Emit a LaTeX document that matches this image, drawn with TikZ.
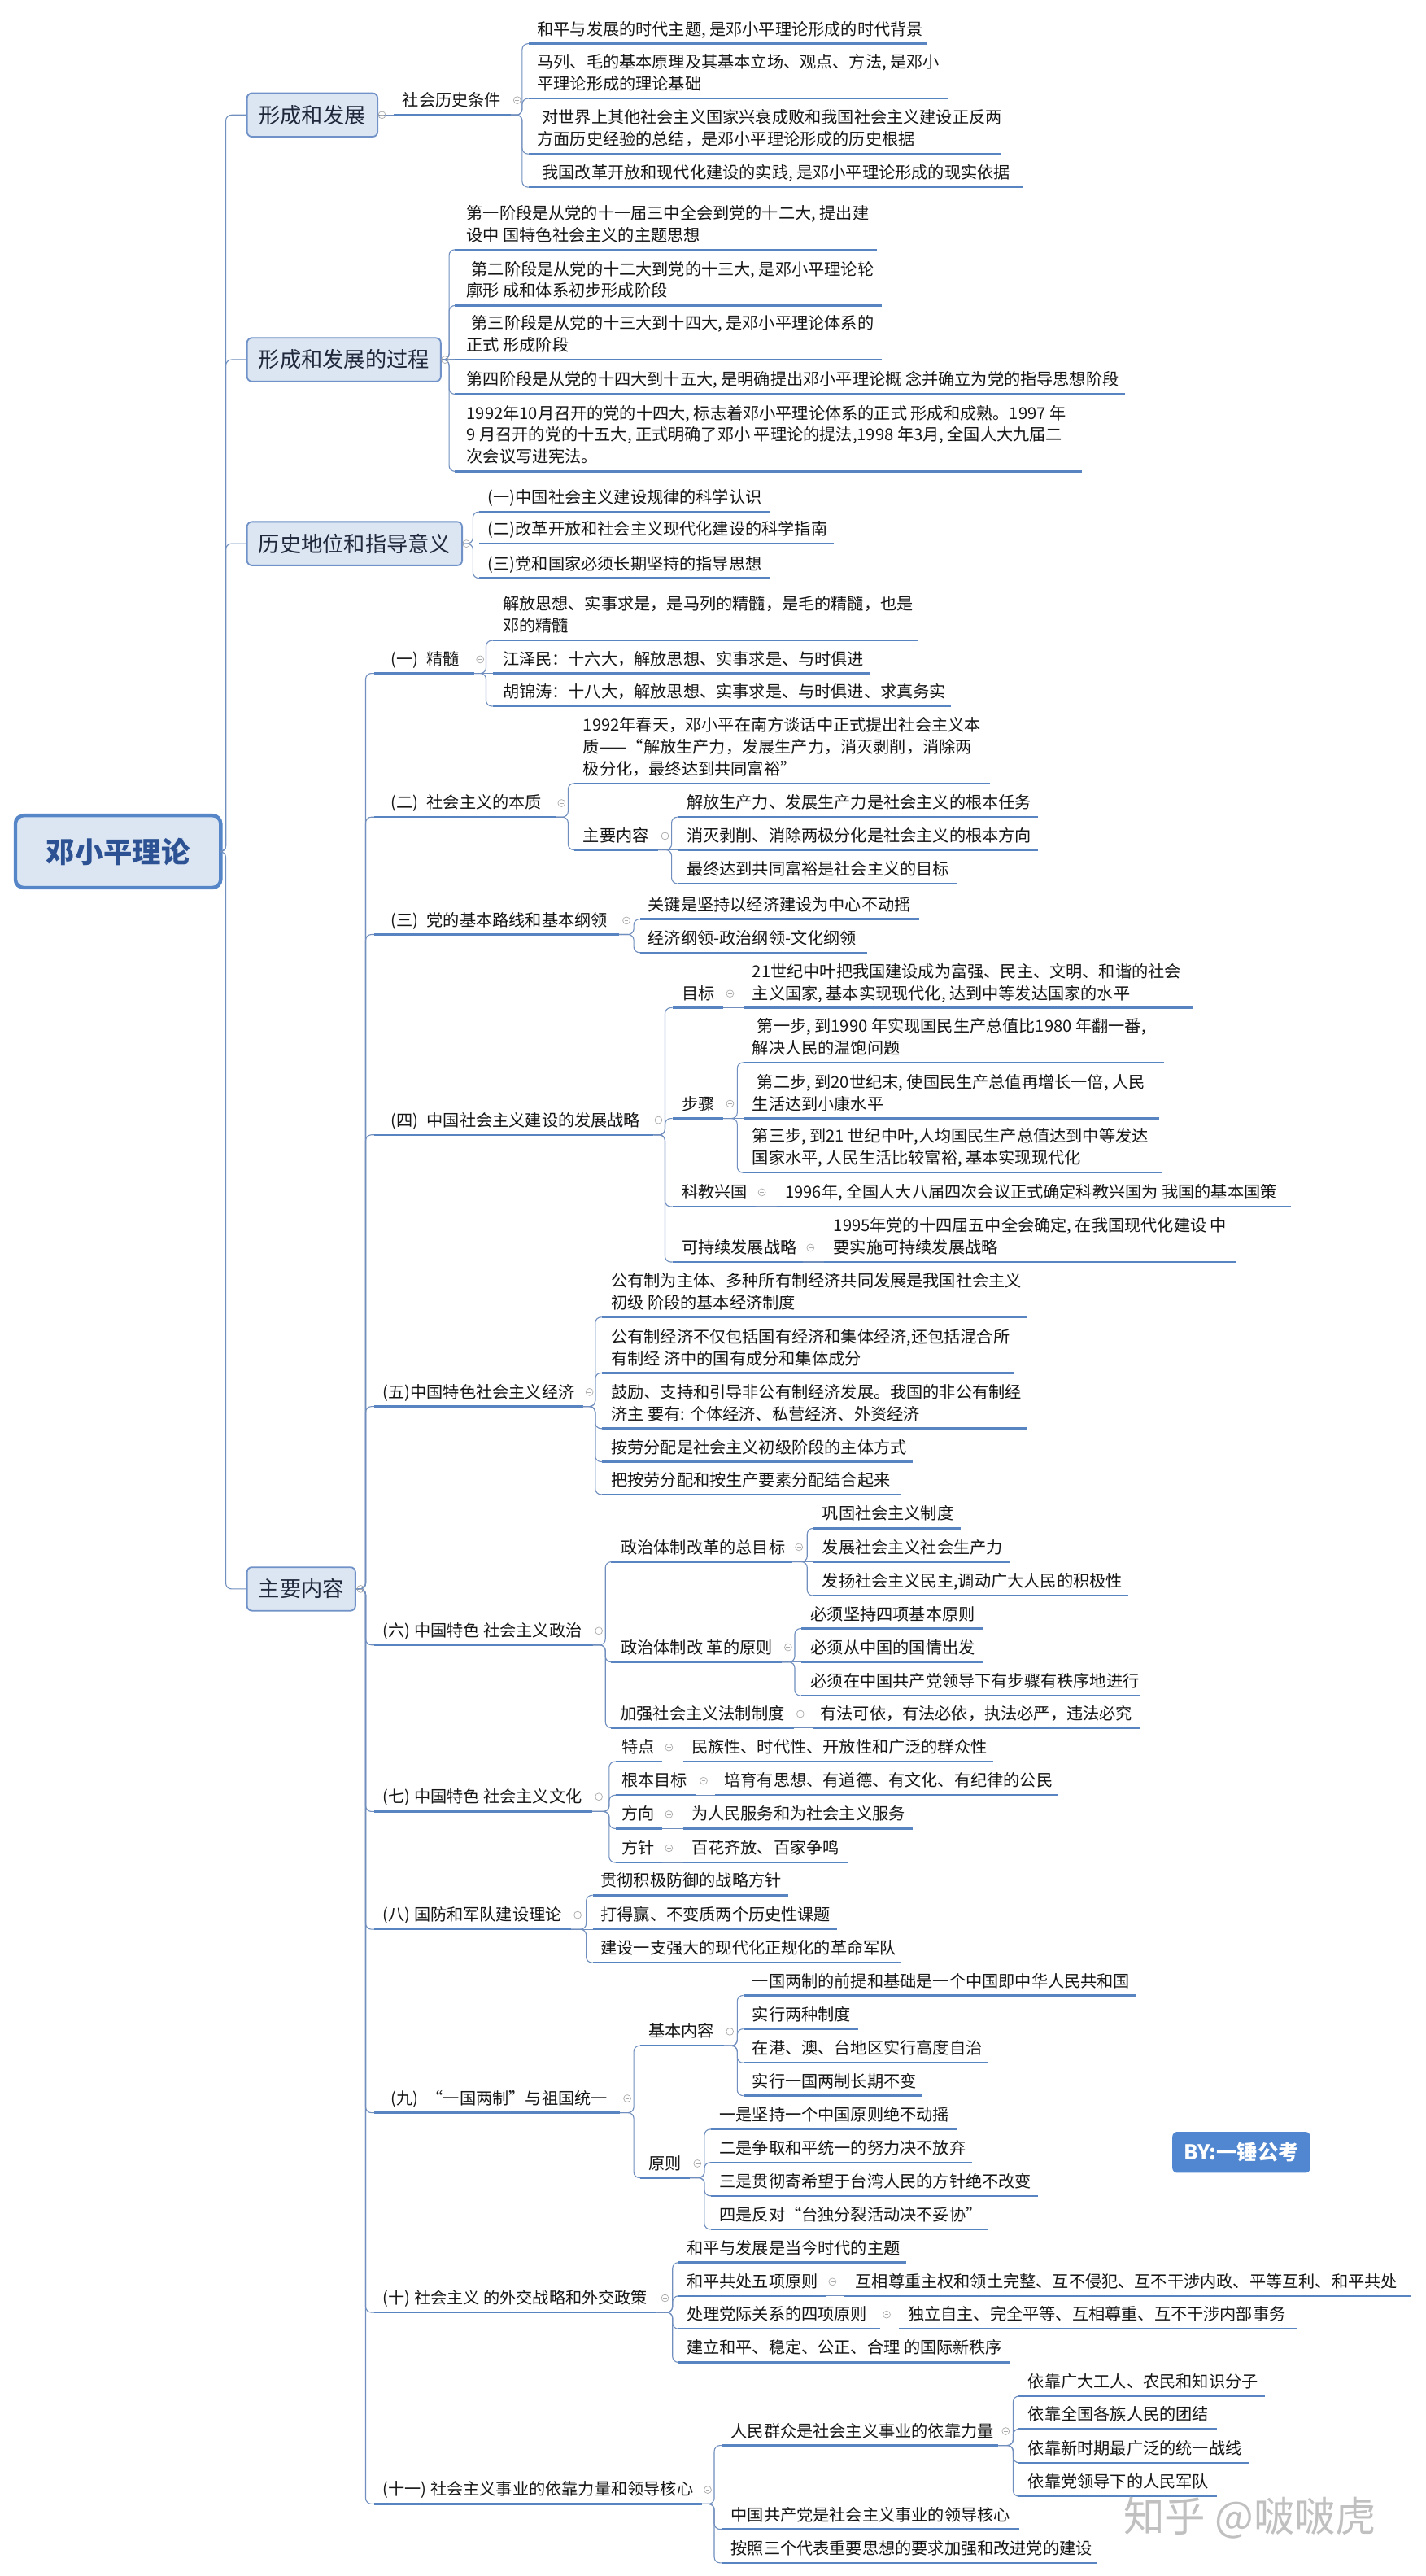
\documentclass[tikz,border=0pt]{standalone}
\usepackage{fontspec}
\setmainfont{Noto Sans CJK SC}
\definecolor{ulc}{RGB}{88,132,194}
\definecolor{cnc}{RGB}{112,142,190}
\definecolor{bxf}{RGB}{220,230,242}
\definecolor{bxb}{RGB}{112,146,200}
\definecolor{bxt}{RGB}{32,40,60}
\definecolor{txc}{RGB}{22,22,22}
\definecolor{rtb}{RGB}{86,134,200}
\definecolor{rtt}{RGB}{44,82,148}
\definecolor{byf}{RGB}{80,135,208}
\definecolor{wmc}{RGB}{192,192,192}
\definecolor{ccc}{RGB}{170,170,170}
\tikzset{
  uline/.style={draw=ulc, line width=1.2pt},
  conn/.style={draw=cnc, line width=0.55pt, rounded corners=3.5pt},
  ccs/.style={draw=ccc, line width=0.35pt},
  tx/.style={anchor=south west, inner sep=0pt, align=left, text=txc,
    font=\fontsize{10}{13.3}\selectfont, execute at end node=\strut},
  lonebox/.style={anchor=west, draw=bxb, fill=bxf, line width=0.9pt, rounded corners=3pt,
    inner sep=0pt, minimum height=26.5pt, text=bxt, font=\fontsize{13}{15}\selectfont},
  rootbox/.style={anchor=west, draw=rtb, fill=bxf, line width=2.2pt, rounded corners=5pt,
    inner sep=0pt, minimum width=125pt, minimum height=44pt, text=rtt,
    font=\fontsize{17.5}{20}\selectfont\bfseries},
  bybox/.style={draw=none, fill=byf, rounded corners=3pt, inner sep=0pt,
    minimum width=84pt, minimum height=25pt, text=white, font=\fontsize{12.5}{14}\selectfont\bfseries},
  wmark/.style={anchor=west, inner sep=0pt, text=wmc, font=\fontsize{25}{28}\selectfont}
}
% topic: name, line x1, line x2, line y, text x, text
\newcommand\tp[6]{%
  \draw[uline] (#2,#4) coordinate (#1-l) -- (#3,#4) coordinate (#1-r);
  \node[tx] (#1) at (#5,#4-1) {#6};}
% collapse mark
\newcommand\cc[2]{\draw[ccs] (#1,#2) circle[radius=2.2]; \draw[ccs] (#1-1.2,#2) -- (#1+1.2,#2);}
% bracket connector and straight connector
\newcommand\cn[3]{\draw[conn] (#1) -- (#2) |- (#3);}
\newcommand\cs[2]{\draw[conn] (#1) -- (#2);}
\begin{document}
\begin{tikzpicture}[x=1pt,y=-1pt]
\fill[white] (0,0) rectangle (868,1568.5);
\useasboundingbox (0,0) rectangle (868,1568.5);

% ---------- root and first level ----------
\node[rootbox] (root) at (8.3,518.5) {邓小平理论};
\node[lonebox, minimum width=79.5pt] (bA) at (150,70) {形成和发展};
\node[lonebox, minimum width=118pt] (bB) at (150,219) {形成和发展的过程};
\node[lonebox, minimum width=131pt] (bC) at (150,331) {历史地位和指导意义};
\node[lonebox, minimum width=66pt] (bD) at (150,967.5) {主要内容};
\coordinate (jR) at (137.5,518.5);
\foreach \b in {bA,bB,bC,bD} {\cn{root.east}{jR}{\b.west}}

% ---------- 形成和发展 ----------
\tp{s1}{240}{311}{70}{245}{社会历史条件}
\cs{bA.east}{s1-l}
\coordinate (jA) at (318,70);
\tp{a1}{322}{565}{26.6}{327}{和平与发展的时代主题, 是邓小平理论形成的时代背景}
\tp{a2}{322}{577}{60}{327}{马列、毛的基本原理及其基本立场、观点、方法, 是邓小\\平理论形成的理论基础}
\tp{a3}{322}{610}{93.7}{327}{\hspace*{3pt}对世界上其他社会主义国家兴衰成败和我国社会主义建设正反两\\方面历史经验的总结，是邓小平理论形成的历史根据}
\tp{a4}{322}{623}{114}{327}{\hspace*{3pt}我国改革开放和现代化建设的实践, 是邓小平理论形成的现实依据}
\foreach \c in {a1,a2,a3,a4} {\cn{s1-r}{jA}{\c-l}}
\cc{232.6}{70} \cc{315}{61}

% ---------- 形成和发展的过程 ----------
\coordinate (jB) at (273.5,219);
\tp{b1}{277}{534}{152}{284}{第一阶段是从党的十一届三中全会到党的十二大, 提出建\\设中 国特色社会主义的主题思想}
\tp{b2}{277}{537}{186}{284}{\hspace*{3pt}第二阶段是从党的十二大到党的十三大, 是邓小平理论轮\\廓形 成和体系初步形成阶段}
\tp{b3}{277}{537}{219}{284}{\hspace*{3pt}第三阶段是从党的十三大到十四大, 是邓小平理论体系的\\正式 形成阶段}
\tp{b4}{277}{685}{240}{284}{第四阶段是从党的十四大到十五大, 是明确提出邓小平理论概 念并确立为党的指导思想阶段}
\tp{b5}{277}{659}{287}{284}{1992年10月召开的党的十四大, 标志着邓小平理论体系的正式 形成和成熟。1997 年\\9 月召开的党的十五大, 正式明确了邓小 平理论的提法,1998 年3月, 全国人大九届二\\次会议写进宪法。}
\foreach \c in {b1,b2,b4,b5} {\cn{bB.east}{jB}{\c-l}}
\cs{bB.east}{b3-l}
\cc{271}{219}

% ---------- 历史地位和指导意义 ----------
\coordinate (jC) at (288,331);
\tp{c1}{292}{469}{311.7}{297}{(一)中国社会主义建设规律的科学认识}
\tp{c2}{292}{508}{331}{297}{(二)改革开放和社会主义现代化建设的科学指南}
\tp{c3}{292}{469}{352}{297}{(三)党和国家必须长期坚持的指导思想}
\cn{bC.east}{jC}{c1-l} \cs{bC.east}{c2-l} \cn{bC.east}{jC}{c3-l}
\cc{284}{331}

% ---------- 主要内容 : second level ----------
\coordinate (jD) at (222.7,967.5);
\tp{D1}{228}{289}{410}{238}{(一)\hspace{5pt}精髓}
\tp{D2}{228}{338.5}{497.5}{238}{(二)\hspace{5pt}社会主义的本质}
\tp{D3}{228}{377}{569}{238}{(三)\hspace{5pt}党的基本路线和基本纲领}
\tp{D4}{228}{398}{691}{238}{(四)\hspace{5pt}中国社会主义建设的发展战略}
\tp{D5}{228}{355}{856.4}{233}{(五)中国特色社会主义经济}
\tp{D6}{228}{361}{1001.6}{233}{(六) 中国特色 社会主义政治}
\tp{D7}{228}{360.6}{1103}{233}{(七) 中国特色 社会主义文化}
\tp{D8}{228}{347.7}{1174.7}{233}{(八) 国防和军队建设理论}
\tp{D9}{228}{377.6}{1286.4}{238}{(九)\hspace{5pt}“一国两制”与祖国统一}
\tp{D10}{228}{400}{1408}{233}{(十) 社会主义 的外交战略和外交政策}
\tp{D11}{228}{427.6}{1524.6}{233}{(十一) 社会主义事业的依靠力量和领导核心}
\foreach \c in {D1,D2,D3,D4,D5,D6,D7,D8,D9,D10,D11} {\cn{bD.east}{jD}{\c-l}}
\cc{219.6}{967.5}

% (一) 精髓
\coordinate (jD1) at (296,410);
\tp{d11}{300}{559.5}{390}{306}{解放思想、实事求是，是马列的精髓，是毛的精髓，也是\\邓的精髓}
\tp{d12}{300}{529.5}{410}{306}{江泽民：十六大，解放思想、实事求是、与时俱进}
\tp{d13}{300}{579}{430}{306}{胡锦涛：十八大，解放思想、实事求是、与时俱进、求真务实}
\cn{D1-r}{jD1}{d11-l} \cs{D1-r}{d12-l} \cn{D1-r}{jD1}{d13-l}
\cc{292.4}{401.5}

% (二) 社会主义的本质
\coordinate (jD2) at (346,497.5);
\tp{d21}{350}{603}{477}{355}{1992年春天，邓小平在南方谈话中正式提出社会主义本\\质——“解放生产力，发展生产力，消灭剥削，消除两\\极分化，最终达到共同富裕”}
\tp{d22}{350}{401}{517.5}{355}{主要内容}
\cn{D2-r}{jD2}{d21-l} \cn{D2-r}{jD2}{d22-l}
\cc{342}{489}
\coordinate (jD22) at (409,517.5);
\tp{d221}{412.5}{632}{497.5}{418}{解放生产力、发展生产力是社会主义的根本任务}
\tp{d222}{412.5}{632}{517.5}{418}{消灭剥削、消除两极分化是社会主义的根本方向}
\tp{d223}{412.5}{583}{538}{418}{最终达到共同富裕是社会主义的目标}
\cn{d22-r}{jD22}{d221-l} \cs{d22-r}{d222-l} \cn{d22-r}{jD22}{d223-l}
\cc{405}{509}

% (三) 党的基本路线
\coordinate (jD3) at (386,569);
\tp{d31}{390}{560}{559.6}{394.5}{关键是坚持以经济建设为中心不动摇}
\tp{d32}{390}{528}{580}{394.5}{经济纲领-政治纲领-文化纲领}
\cn{D3-r}{jD3}{d31-l} \cn{D3-r}{jD3}{d32-l}
\cc{381.5}{560.5}

% (四) 发展战略
\coordinate (jD4) at (405,691);
\tp{d41}{409.5}{440.6}{613.6}{415}{目标}
\tp{d41a}{453}{726.6}{613.6}{458}{21世纪中叶把我国建设成为富强、民主、文明、和谐的社会\\主义国家, 基本实现现代化, 达到中等发达国家的水平}
\tp{d42}{409.5}{440.6}{681}{415}{步骤}
\tp{d43}{409.5}{460}{734.7}{415}{科教兴国}
\tp{d43a}{473}{786}{734.7}{478}{1996年, 全国人大八届四次会议正式确定科教兴国为 我国的基本国策}
\tp{d44}{409.5}{489}{768.4}{415}{可持续发展战略}
\tp{d44a}{502}{753}{768.4}{507.5}{1995年党的十四届五中全会确定, 在我国现代化建设 中\\要实施可持续发展战略}
\foreach \c in {d41,d42,d43,d44} {\cn{D4-r}{jD4}{\c-l}}
\cs{d41-r}{d41a-l} \cs{d43-r}{d43a-l} \cs{d44-r}{d44a-l}
\coordinate (jD42) at (449,681);
\tp{d421}{453}{709}{647}{458}{\hspace*{3pt}第一步, 到1990 年实现国民生产总值比1980 年翻一番,\\解决人民的温饱问题}
\tp{d422}{453}{706}{681}{458}{\hspace*{3pt}第二步, 到20世纪末, 使国民生产总值再增长一倍, 人民\\生活达到小康水平}
\tp{d423}{453}{707.5}{714}{458}{第三步, 到21 世纪中叶,人均国民生产总值达到中等发达\\国家水平, 人民生活比较富裕, 基本实现现代化}
\cn{d42-r}{jD42}{d421-l} \cs{d42-r}{d422-l} \cn{d42-r}{jD42}{d423-l}
\cc{401}{682} \cc{444.6}{605} \cc{444.6}{672} \cc{464}{726} \cc{493.6}{759.7}

% (五) 经济
\coordinate (jD5) at (362.5,856.4);
\tp{d51}{366.7}{625}{802}{372}{公有制为主体、多种所有制经济共同发展是我国社会主义\\初级 阶段的基本经济制度}
\tp{d52}{366.7}{618}{836}{372}{公有制经济不仅包括国有经济和集体经济,还包括混合所\\有制经 济中的国有成分和集体成分}
\tp{d53}{366.7}{625}{869.8}{372}{鼓励、支持和引导非公有制经济发展。我国的非公有制经\\济主 要有: 个体经济、私营经济、外资经济}
\tp{d54}{366.7}{556}{890}{372}{按劳分配是社会主义初级阶段的主体方式}
\tp{d55}{366.7}{549}{910}{372}{把按劳分配和按生产要素分配结合起来}
\foreach \c in {d51,d52,d53,d54,d55} {\cn{D5-r}{jD5}{\c-l}}
\cc{359}{847.6}

% (六) 政治
\coordinate (jD6) at (368.7,1001.6);
\tp{d61}{372}{482.7}{951}{378}{政治体制改革的总目标}
\tp{d62}{372}{476}{1012}{378}{政治体制改 革的原则}
\tp{d63}{372}{483.6}{1052}{377.6}{加强社会主义法制制度}
\tp{d63a}{495}{694.6}{1052}{499.4}{有法可依，有法必依，执法必严，违法必究}
\foreach \c in {d61,d62,d63} {\cn{D6-r}{jD6}{\c-l}}
\cs{d63-r}{d63a-l}
\coordinate (jD61) at (491.6,951);
\tp{d611}{495}{585}{930.6}{500.6}{巩固社会主义制度}
\tp{d612}{495}{615}{951}{500.6}{发展社会主义社会生产力}
\tp{d613}{495}{687}{971.6}{500.6}{发扬社会主义民主,调动广大人民的积极性}
\cn{d61-r}{jD61}{d611-l} \cs{d61-r}{d612-l} \cn{d61-r}{jD61}{d613-l}
\coordinate (jD62) at (484,1012);
\tp{d621}{488}{599}{991.6}{493.6}{必须坚持四项基本原则}
\tp{d622}{488}{599}{1012}{493.6}{必须从中国的国情出发}
\tp{d623}{488}{694}{1032.5}{493.6}{必须在中国共产党领导下有步骤有秩序地进行}
\cn{d62-r}{jD62}{d621-l} \cs{d62-r}{d622-l} \cn{d62-r}{jD62}{d623-l}
\cc{364.7}{993} \cc{486.6}{942} \cc{480}{1003} \cc{487.4}{1043.6}

% (七) 文化
\coordinate (jD7) at (371,1103);
\tp{d71}{375}{403.3}{1072.6}{378.5}{特点}
\tp{d71a}{416}{605}{1072.6}{421}{民族性、时代性、开放性和广泛的群众性}
\tp{d72}{375}{424}{1093}{378.5}{根本目标}
\tp{d72a}{435.6}{644.6}{1093}{441}{培育有思想、有道德、有文化、有纪律的公民}
\tp{d73}{375}{403.3}{1113.4}{378.5}{方向}
\tp{d73a}{416}{556}{1113.4}{421}{为人民服务和为社会主义服务}
\tp{d74}{375}{403.3}{1134}{378.5}{方针}
\tp{d74a}{416}{516}{1134}{421}{百花齐放、百家争鸣}
\foreach \c in {d71,d72,d73,d74} {\cn{D7-r}{jD7}{\c-l}}
\foreach \c in {d71,d72,d73,d74} {\cs{\c-r}{\c a-l}}
\cc{364.7}{1094} \cc{407.4}{1064} \cc{428.5}{1084.3} \cc{407.4}{1104.7} \cc{407.4}{1125.3}

% (八) 国防
\coordinate (jD8) at (357,1174.7);
\tp{d81}{361}{480}{1154}{365.7}{贯彻积极防御的战略方针}
\tp{d82}{361}{510}{1174.7}{365.7}{打得赢、不变质两个历史性课题}
\tp{d83}{361}{549}{1195}{365.7}{建设一支强大的现代化正规化的革命军队}
\cn{D8-r}{jD8}{d81-l} \cs{D8-r}{d82-l} \cn{D8-r}{jD8}{d83-l}
\cc{351.8}{1166}

% (九) 一国两制
\coordinate (jD9) at (386,1286.4);
\tp{d91}{390}{441}{1245.6}{394.7}{基本内容}
\tp{d92}{390}{420}{1326}{394.7}{原则}
\cn{D9-r}{jD9}{d91-l} \cn{D9-r}{jD9}{d92-l}
\coordinate (jD91) at (449,1245.6);
\tp{d911}{452.6}{691.6}{1215}{458}{一国两制的前提和基础是一个中国即中华人民共和国}
\tp{d912}{452.6}{522.8}{1235.4}{458}{实行两种制度}
\tp{d913}{452.6}{602}{1256}{458}{在港、澳、台地区实行高度自治}
\tp{d914}{452.6}{562}{1276}{458}{实行一国两制长期不变}
\foreach \c in {d911,d912,d913,d914} {\cn{d91-r}{jD91}{\c-l}}
\coordinate (jD92) at (429,1326);
\tp{d921}{433}{582.7}{1296.5}{438}{一是坚持一个中国原则绝不动摇}
\tp{d922}{433}{592}{1316.7}{438}{二是争取和平统一的努力决不放弃}
\tp{d923}{433}{632}{1337}{438}{三是贯彻寄希望于台湾人民的方针绝不改变}
\tp{d924}{433}{602}{1357.4}{438}{四是反对“台独分裂活动决不妥协”}
\foreach \c in {d921,d922,d923,d924} {\cn{d92-r}{jD92}{\c-l}}
\cc{382}{1277.7} \cc{444.5}{1237} \cc{424.7}{1317.3}

% (十) 外交
\coordinate (jD10) at (409.6,1408);
\tp{d101}{413}{552}{1377.6}{418}{和平与发展是当今时代的主题}
\tp{d102}{413}{502.6}{1398}{418}{和平共处五项原则}
\tp{d102a}{514}{859.5}{1398}{520.8}{互相尊重主权和领土完整、互不侵犯、互不干涉内政、平等互利、和平共处}
\tp{d103}{413}{536}{1418}{418}{处理党际关系的四项原则}
\tp{d103a}{547.6}{790}{1418}{552.8}{独立自主、完全平等、互相尊重、互不干涉内部事务}
\tp{d104}{413}{614.7}{1438.4}{418}{建立和平、稳定、公正、合理 的国际新秩序}
\foreach \c in {d101,d102,d103,d104} {\cn{D10-r}{jD10}{\c-l}}
\cs{d102-r}{d102a-l} \cs{d103-r}{d103a-l}
\cc{405}{1399.3} \cc{507}{1389.3} \cc{540}{1409.3}

% (十一) 依靠力量
\coordinate (jD11) at (435,1524.6);
\tp{d111}{439.5}{608}{1489}{445}{人民群众是社会主义事业的依靠力量}
\tp{d112}{439.5}{621}{1540}{445}{中国共产党是社会主义事业的领导核心}
\tp{d113}{439.5}{668}{1560.5}{445}{按照三个代表重要思想的要求加强和改进党的建设}
\foreach \c in {d111,d112,d113} {\cn{D11-r}{jD11}{\c-l}}
\coordinate (jD111) at (617,1489);
\tp{d1111}{620.5}{770.6}{1459}{626}{依靠广大工人、农民和知识分子}
\tp{d1112}{620.5}{741}{1479}{626}{依靠全国各族人民的团结}
\tp{d1113}{620.5}{761}{1499.5}{626}{依靠新时期最广泛的统一战线}
\tp{d1114}{620.5}{741}{1520}{626}{依靠党领导下的人民军队}
\foreach \c in {d1111,d1112,d1113,d1114} {\cn{d111-r}{jD111}{\c-l}}
\cc{431}{1516} \cc{612.5}{1480.3}

% ---------- labels ----------
\node[bybox] (by) at (756,1310.5) {BY:一锤公考};
\node[wmark] (wm) at (684,1533) {知乎 @啵啵虎};
\end{tikzpicture}
\end{document}
